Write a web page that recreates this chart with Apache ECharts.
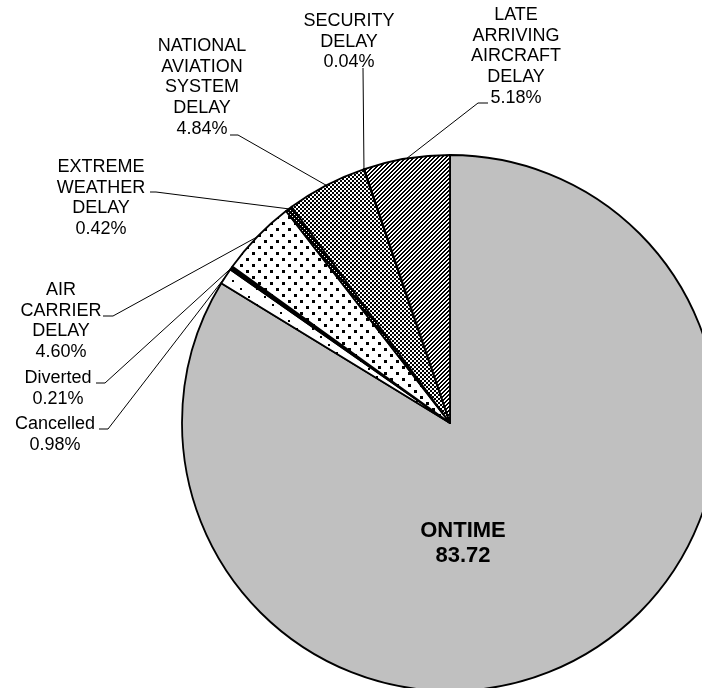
<!DOCTYPE html>
<html><head><meta charset="utf-8">
<script src="https://cdn.jsdelivr.net/npm/echarts@6/dist/echarts.min.js"></script>
<style>html,body{margin:0;padding:0;background:#fff}#c{width:702px;height:688px}</style>
</head><body><div id="c"></div>
<script>
// ---- data ----
const categories = ['ONTIME', 'Cancelled', 'Diverted', 'AIR\nCARRIER\nDELAY', 'EXTREME\nWEATHER\nDELAY',
  'NATIONAL\nAVIATION\nSYSTEM\nDELAY', 'SECURITY\nDELAY', 'LATE\nARRIVING\nAIRCRAFT\nDELAY'];
const shares = [83.72, 0.98, 0.21, 4.60, 0.42, 4.84, 0.04, 5.18];

// ---- fills ----
function makePattern(w, h, draw) {
  const c = document.createElement('canvas');
  c.width = w; c.height = h;
  const g = c.getContext('2d');
  g.fillStyle = '#fff'; g.fillRect(0, 0, w, h);
  g.fillStyle = '#000';
  draw(g, w, h);
  return { image: c, repeat: 'repeat' };
}
const fills = [
  '#c0c0c0',
  makePattern(16, 16, g => { g.fillRect(0, 0, 2, 2); g.fillRect(8, 8, 2, 2); }),
  '#000',
  makePattern(12, 12, g => { g.fillRect(0, 0, 3, 3); g.fillRect(6, 6, 3, 3); }),
  makePattern(4, 4, (g, w, h) => { g.fillRect(0, 0, 4, 4); g.fillStyle = '#fff'; g.fillRect(0, 0, 1, 1); g.fillRect(2, 2, 1, 1); }),
  makePattern(4, 4, g => { g.fillRect(0, 0, 2, 2); g.fillRect(2, 2, 2, 2); }),
  '#000',
  makePattern(4, 4, g => { for (let y = 0; y < 4; y++) for (let x = 0; x < 4; x++) { if ((x + y) % 4 === 2 || (x + y) % 4 === 3) g.fillRect(x, y, 1, 1); } })
];

// ---- label placement (layout only) ----
const placement = {
  0: { x: 463, y: 519 },
  1: { x: 55, y: 414, line: [[108, 429], [99, 429]] },
  2: { x: 58, y: 368, line: [[105, 383], [96, 383]] },
  3: { x: 61, y: 280, line: [[113, 316], [103, 316]] },
  4: { x: 101, y: 157, line: [[156, 192], [150, 192]] },
  5: { x: 202, y: 36, line: [[238, 135], [230, 135]] },
  6: { x: 349, y: 11, line: [[363, 68], [363, 68]] },
  7: { x: 516, y: 5, line: [[478, 103], [488, 103]] }
};

const baseText = { fontFamily: 'Liberation Sans, Arial, sans-serif', fontSize: 18, lineHeight: 20.6, color: '#000' };

const data = categories.map((name, i) => {
  const item = { name: name, value: shares[i], itemStyle: { color: fills[i] } };
  if (i === 0) {
    item.label = { position: 'inside', fontWeight: 'bold', fontSize: 22, lineHeight: 24.5 };
    item.labelLine = { show: false };
  }
  return item;
});

const chart = echarts.init(document.getElementById('c'), null, { renderer: 'canvas' });
chart.setOption({
  animation: false,
  backgroundColor: '#fff',
  series: [{
    type: 'pie',
    center: [450, 423],
    radius: 268,
    startAngle: 90,
    clockwise: true,
    avoidLabelOverlap: false,
    silent: true,
    itemStyle: { borderColor: '#000', borderWidth: 1.8 },
    label: Object.assign({
      show: true,
      position: 'outside',
      overflow: 'none',
      formatter: p => p.dataIndex === 0 ? p.name + '\n' + p.value : p.name + '\n' + p.value.toFixed(2) + '%'
    }, baseText),
    labelLine: { show: true, length: 20, length2: 10, smooth: false, lineStyle: { color: '#000', width: 1 } },
    labelLayout: function (p) {
      const s = placement[p.dataIndex];
      const r = { x: s.x, y: s.y, align: 'center', verticalAlign: 'top' };
      if (s.line && p.labelLinePoints) {
        r.labelLinePoints = [p.labelLinePoints[0]].concat(s.line);
      }
      return r;
    },
    data: data
  }]
});
</script>
</body></html>
